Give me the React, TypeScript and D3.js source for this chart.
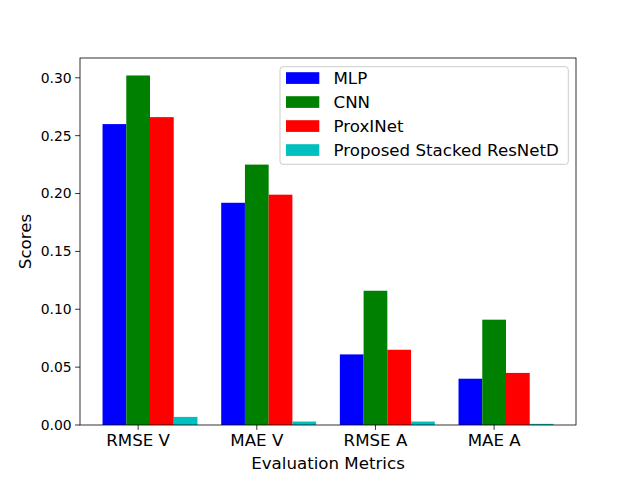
import React from 'react';
import { scaleLinear } from 'd3';

const metrics = ['RMSE V', 'MAE V', 'RMSE A', 'MAE A'];
const seriesNames = ['MLP', 'CNN', 'ProxINet', 'Proposed Stacked ResNetD'];
const seriesColors = ['#0000ff', '#008000', '#ff0000', '#00bfbf'];
const mlp = [0.26, 0.192, 0.061, 0.04];
const cnn = [0.302, 0.225, 0.116, 0.091];
const proxinet = [0.266, 0.199, 0.065, 0.045];
const stacked = [0.007, 0.003, 0.003, 0.001];
const yTicks = [0.0, 0.05, 0.1, 0.15, 0.2, 0.25, 0.3];

const series = [mlp, cnn, proxinet, stacked];
const barWidth = 0.2;

const W = 640;
const H = 478;
const margin = { left: 80, right: 64, top: 58, bottom: 53 };
const font = 'DejaVu Sans, sans-serif';

const App: React.FC = () => {
  const innerW = W - margin.left - margin.right;
  const innerH = H - margin.top - margin.bottom;

  const xMin = -barWidth / 2;
  const xMax = metrics.length - 1 + barWidth * (series.length - 1) + barWidth / 2;
  const xPad = (xMax - xMin) * 0.05;
  const x = scaleLinear().domain([xMin - xPad, xMax + xPad]).range([0, innerW]);

  const yMax = Math.max(...series.flat()) * 1.05;
  const y = scaleLinear().domain([0, yMax]).range([innerH, 0]);

  const legend = { x: 280 - margin.left, y: 66.7 - margin.top, w: 288.3, h: 97.6, row: 24 };

  return (
    <svg width={W} height={H} style={{ position: 'absolute', left: 0, top: 0 }} fontFamily={font}>
      <rect width={W} height={H} fill="#fff" />
      <g transform={`translate(${margin.left},${margin.top})`}>
        {series.map((vals, si) =>
          vals.map((v, i) => {
            const cx = i + si * barWidth;
            return (
              <rect
                key={`${si}-${i}`}
                x={x(cx - barWidth / 2)}
                y={y(v)}
                width={x(cx + barWidth / 2) - x(cx - barWidth / 2)}
                height={y(0) - y(v)}
                fill={seriesColors[si]}
              />
            );
          })
        )}

        {/* y axis */}
        {yTicks.map(t => (
          <g key={t} transform={`translate(0,${y(t)})`}>
            <line x1={-4.9} x2={0} stroke="#000" strokeWidth={0.8} />
            <text x={-8.3} dy="0.35em" textAnchor="end" fontSize={13.9} fill="#000">
              {t.toFixed(2)}
            </text>
          </g>
        ))}

        {/* x axis */}
        {metrics.map((m, i) => (
          <g key={m} transform={`translate(${x(i + barWidth)},${innerH})`}>
            <line y1={0} y2={4.9} stroke="#000" strokeWidth={0.8} />
            <text y={8.3} dy="0.76em" textAnchor="middle" fontSize={16.67} fill="#000">
              {m}
            </text>
          </g>
        ))}

        <rect x={0} y={0} width={innerW} height={innerH} fill="none" stroke="#000" strokeWidth={0.8} />

        <text x={innerW / 2} y={innerH + 44} textAnchor="middle" fontSize={16.67} fill="#000">
          Evaluation Metrics
        </text>
        <text
          transform={`translate(${25 - margin.left},${innerH / 2}) rotate(-90)`}
          textAnchor="middle"
          dy="0.35em"
          fontSize={16.67}
          fill="#000"
        >
          Scores
        </text>

        {/* legend */}
        <g transform={`translate(${legend.x},${legend.y})`}>
          <rect width={legend.w} height={legend.h} rx={3} fill="#fff" fillOpacity={0.8} stroke="#ccc" strokeWidth={1} />
          {seriesNames.map((name, si) => (
            <g key={name} transform={`translate(0,${11.5 + si * legend.row})`}>
              <rect x={6} y={-6} width={33.3} height={11.7} fill={seriesColors[si]} />
              <text x={53.5} dy="0.35em" fontSize={16.67} fill="#000">
                {name}
              </text>
            </g>
          ))}
        </g>
      </g>
    </svg>
  );
};

export default App;
